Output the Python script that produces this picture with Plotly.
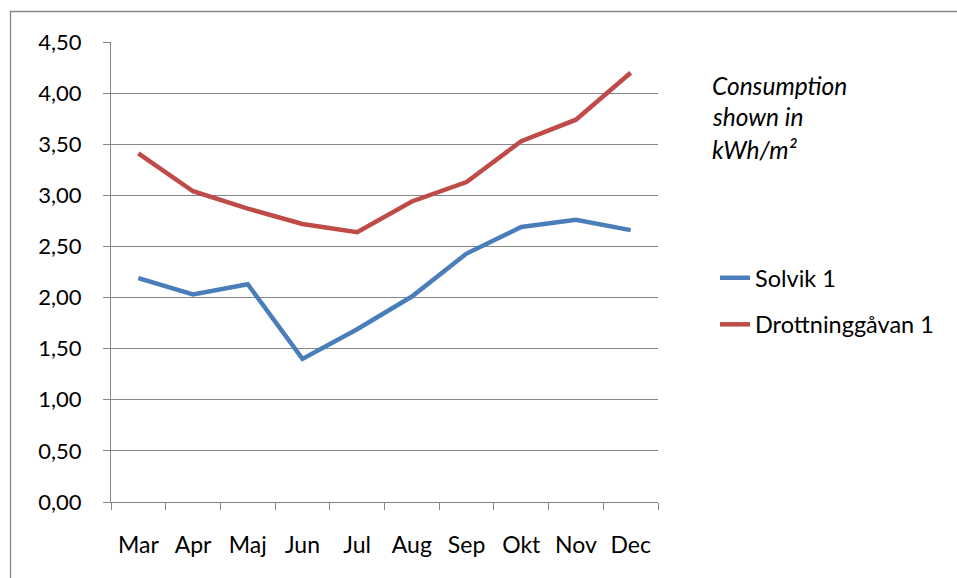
import plotly.graph_objects as go

months = ["Mar", "Apr", "Maj", "Jun", "Jul", "Aug", "Sep", "Okt", "Nov", "Dec"]
solvik = [2.19, 2.03, 2.13, 1.40, 1.69, 2.01, 2.43, 2.69, 2.76, 2.66]
drottning = [3.41, 3.04, 2.87, 2.72, 2.64, 2.94, 3.13, 3.53, 3.74, 4.20]
y_ticks = [0, 0.5, 1, 1.5, 2, 2.5, 3, 3.5, 4, 4.5]
y_labels = ["0,00", "0,50", "1,00", "1,50", "2,00", "2,50", "3,00", "3,50", "4,00", "4,50"]
note_lines = ["Consumption", "shown in", "kWh/m²"]

FONT = "Lato"
GRID = "#868686"

fig = go.Figure()
fig.add_trace(go.Scatter(x=months, y=solvik, mode="lines", name="Solvik 1",
                         legendgroup="a",
                         line=dict(color="#4A7EBB", width=4.5)))
fig.add_trace(go.Scatter(x=months, y=drottning, mode="lines", name="Drottninggåvan 1",
                         legendgroup="b",
                         line=dict(color="#BE4B48", width=4.5)))

W, H = 957, 578
L, R, T, B = 111, 299, 42, 76
pw, ph = W - L - R, H - T - B

def px(x):
    return (x - L) / pw

def py(y):
    return (H - B - y) / ph

fig.update_layout(
    width=W, height=H,
    margin=dict(l=L, r=R, t=T, b=B, pad=0),
    paper_bgcolor="white", plot_bgcolor="white",
    font=dict(family=FONT, size=23, color="black"),
    showlegend=True,
    legend=dict(x=px(715), y=py(256), xanchor="left", yanchor="top",
                traceorder="grouped", tracegroupgap=13,
                font=dict(family=FONT, size=23.5, color="black"),
                bgcolor="rgba(0,0,0,0)", itemwidth=30),
    xaxis=dict(type="category", showgrid=False, showline=True, linecolor=GRID,
               linewidth=1, ticks="outside", tickson="boundaries", ticklen=7,
               tickcolor=GRID, tickwidth=1, ticklabelstandoff=22,
               tickfont=dict(family=FONT, size=23, color="black"),
               range=[-0.5, 9.5], fixedrange=True),
    yaxis=dict(range=[0, 4.5], tickvals=y_ticks, ticktext=y_labels,
               showgrid=True, gridcolor=GRID, gridwidth=1.3,
               showline=True, linecolor=GRID, linewidth=1,
               ticks="outside", ticklen=7, tickcolor=GRID, tickwidth=1,
               ticklabelstandoff=17, zeroline=False,
               tickfont=dict(family=FONT, size=22, color="black"),
               fixedrange=True),
)

# outer chart-area border
fig.add_shape(type="rect", xref="paper", yref="paper",
              x0=px(10.5), x1=px(970), y0=py(590), y1=py(11.5),
              line=dict(color=GRID, width=1.3), fillcolor="rgba(0,0,0,0)",
              layer="below")

for i, t in enumerate(note_lines):
    fig.add_annotation(text=f"<i>{t}</i>", xref="paper", yref="paper",
                       x=px(710), y=py(85 + 32 * i), xanchor="left", yanchor="middle",
                       showarrow=False,
                       font=dict(family=FONT, size=24.5, color="black"))

fig.write_html("out.html")
